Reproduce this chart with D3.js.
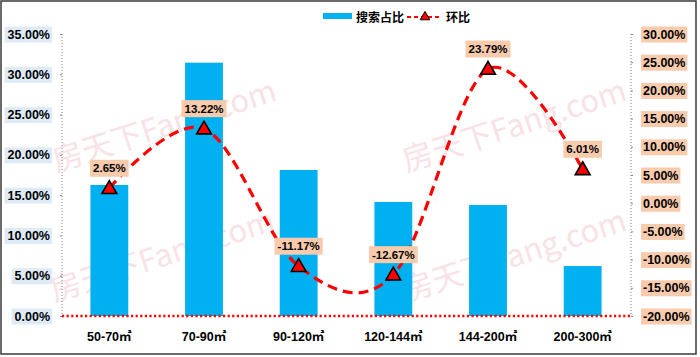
<!DOCTYPE html>
<html>
<head>
<meta charset="utf-8">
<script src="https://cdn.jsdelivr.net/npm/d3@7"></script>
<style>
  html, body { margin: 0; padding: 0; background: #fff; }
  svg { display: block; }
  text { font-family: "Liberation Sans", "Noto Sans CJK SC", sans-serif; font-weight: bold; }
</style>
</head>
<body>
<svg id="chart" width="700" height="357"></svg>
<script>
// ---- data ----
const categories = ["50-70㎡", "70-90㎡", "90-120㎡", "120-144㎡", "144-200㎡", "200-300㎡"];
const shareValues = [0.1626, 0.3144, 0.1812, 0.1415, 0.1378, 0.0620];   // 搜索占比
const momValues = [0.0265, 0.1322, -0.1117, -0.1267, 0.2379, 0.0601];   // 环比
const leftTicks = [0, 0.05, 0.10, 0.15, 0.20, 0.25, 0.30, 0.35];
const rightTicks = [-0.20, -0.15, -0.10, -0.05, 0, 0.05, 0.10, 0.15, 0.20, 0.25, 0.30];
const seriesNames = ["搜索占比", "环比"];

const svg = d3.select("#chart");
const plot = { left: 62, right: 631, top: 34, bottom: 316 };
const locale = d3.formatLocale({ decimal: ".", thousands: ",", grouping: [3], currency: ["", ""], minus: "-", percent: "%" });
const fmt = locale.format(".2%");

// background + border
svg.append("rect").attr("x", 1).attr("y", 1).attr("width", 695).attr("height", 353)
  .attr("fill", "#fff").attr("stroke", "#3a3a3a").attr("stroke-width", 1.5);

// watermark (behind everything)
const wm = svg.append("g").attr("class", "watermark");
const wmPos = [[165, 128], [515, 128], [163, 258], [515, 258]];
wmPos.forEach(([cx, cy]) => {
  wm.append("text")
    .attr("transform", `translate(${cx},${cy}) rotate(-18)`)
    .attr("text-anchor", "middle").attr("dominant-baseline", "middle")
    .style("font-family", '"Noto Sans CJK SC", sans-serif').style("font-weight", "normal")
    .style("font-size", "31px").attr("fill", "#F8E2E5")
    .text("房天下Fang.com");
});

// scales
const x = d3.scaleBand().domain(categories).range([plot.left, plot.right - 1])
  .paddingInner(0.6).paddingOuter(0.3);
const yL = d3.scaleLinear().domain([0, 0.35]).range([plot.bottom, plot.top]);
const yR = d3.scaleLinear().domain([-0.20, 0.30]).range([plot.bottom, plot.top]);

// bars
svg.append("g").selectAll("rect").data(shareValues).join("rect")
  .attr("x", (d, i) => x(categories[i]))
  .attr("width", x.bandwidth())
  .attr("y", d => yL(d))
  .attr("height", d => yL(0) - yL(d))
  .attr("fill", "#00B0F0");

// left axis
const gL = svg.append("g").attr("transform", `translate(${plot.left},0)`)
  .call(d3.axisLeft(yL).tickValues(leftTicks).tickFormat(fmt).tickSize(2).tickPadding(10));
gL.select(".domain").remove();
gL.selectAll(".tick line").attr("stroke", "#888");
gL.selectAll(".tick text").style("font-size", "12.5px").attr("fill", "#000");
gL.selectAll(".tick").each(function () {
  const t = d3.select(this).select("text");
  const b = t.node().getBBox();
  d3.select(this).insert("rect", "text")
    .attr("x", b.x - 3).attr("y", b.y - 1).attr("width", b.width + 5).attr("height", b.height + 2)
    .attr("fill", "#DEEBF7");
});
svg.append("line").attr("x1", plot.left).attr("x2", plot.left)
  .attr("y1", plot.top).attr("y2", plot.bottom)
  .attr("stroke", "#808080").attr("stroke-width", 1).attr("stroke-dasharray", "1,2");

// right axis
const gR = svg.append("g").attr("transform", `translate(${plot.right},0)`)
  .call(d3.axisRight(yR).tickValues(rightTicks).tickFormat(fmt).tickSize(2).tickPadding(10));
gR.select(".domain").remove();
gR.selectAll(".tick line").attr("stroke", "#888");
gR.selectAll(".tick text").style("font-size", "12.5px").attr("fill", "#000");
gR.selectAll(".tick").each(function () {
  const t = d3.select(this).select("text");
  const b = t.node().getBBox();
  d3.select(this).insert("rect", "text")
    .attr("x", b.x - 2).attr("y", b.y - 1).attr("width", b.width + 4).attr("height", b.height + 2)
    .attr("fill", "#F8CBAD");
});
svg.append("line").attr("x1", plot.right).attr("x2", plot.right)
  .attr("y1", plot.top).attr("y2", plot.bottom)
  .attr("stroke", "#808080").attr("stroke-width", 1).attr("stroke-dasharray", "1,2");

// bottom axis
const gB = svg.append("g").attr("transform", `translate(0,${plot.bottom})`)
  .call(d3.axisBottom(x).tickSize(0).tickPadding(16));
gB.select(".domain").remove();
gB.selectAll(".tick text").style("font-size", "12.5px").attr("fill", "#000");
svg.append("line").attr("x1", plot.left).attr("x2", plot.right)
  .attr("y1", plot.bottom).attr("y2", plot.bottom)
  .attr("stroke", "#FF0000").attr("stroke-width", 2.5).attr("stroke-dasharray", "2.2,2.4");

// line (smoothed)
const cx = (d, i) => x(categories[i]) + x.bandwidth() / 2;
const line = d3.line().x(cx).y(d => yR(d)).curve(d3.curveCardinal.tension(0));
svg.append("path").datum(momValues).attr("d", line)
  .attr("fill", "none").attr("stroke", "#FF0000").attr("stroke-width", 3.2)
  .attr("stroke-dasharray", "10,6");

// markers
const tri = d3.symbol().type(d3.symbolTriangle).size(95);
svg.append("g").selectAll("path").data(momValues).join("path")
  .attr("d", tri)
  .attr("transform", (d, i) => `translate(${cx(d, i)},${yR(d) + 1})`)
  .attr("fill", "#FF0000").attr("stroke", "#000").attr("stroke-width", 1.6);

// data labels
const lbl = svg.append("g").selectAll("g").data(momValues).join("g")
  .attr("transform", (d, i) => `translate(${cx(d, i)},${yR(d) - 20})`);
lbl.append("text").attr("text-anchor", "middle").attr("dominant-baseline", "central")
  .style("font-size", "11.5px").attr("fill", "#000")
  .text(d => fmt(d));
lbl.each(function () {
  const g = d3.select(this);
  const b = g.select("text").node().getBBox();
  g.insert("rect", "text").attr("x", b.x - 3).attr("y", -8.5)
    .attr("width", b.width + 6).attr("height", 17).attr("fill", "#F8CBAD");
});

// legend
const lg = svg.append("g");
lg.append("rect").attr("x", 323).attr("y", 13).attr("width", 29).attr("height", 6).attr("fill", "#00B0F0");
lg.append("text").attr("x", 356).attr("y", 21.5).style("font-size", "12px").style("font-family", '"Noto Sans CJK SC", sans-serif').text(seriesNames[0]);
lg.append("line").attr("x1", 407).attr("x2", 442).attr("y1", 17).attr("y2", 17)
  .attr("stroke", "#FF0000").attr("stroke-width", 2).attr("stroke-dasharray", "4,3");
lg.append("path").attr("d", d3.symbol().type(d3.symbolTriangle).size(40))
  .attr("transform", "translate(425,17)").attr("fill", "#FF0000").attr("stroke", "#000").attr("stroke-width", 1);
lg.append("text").attr("x", 446).attr("y", 21.5).style("font-size", "12px").style("font-family", '"Noto Sans CJK SC", sans-serif').text(seriesNames[1]);
</script>
</body>
</html>
